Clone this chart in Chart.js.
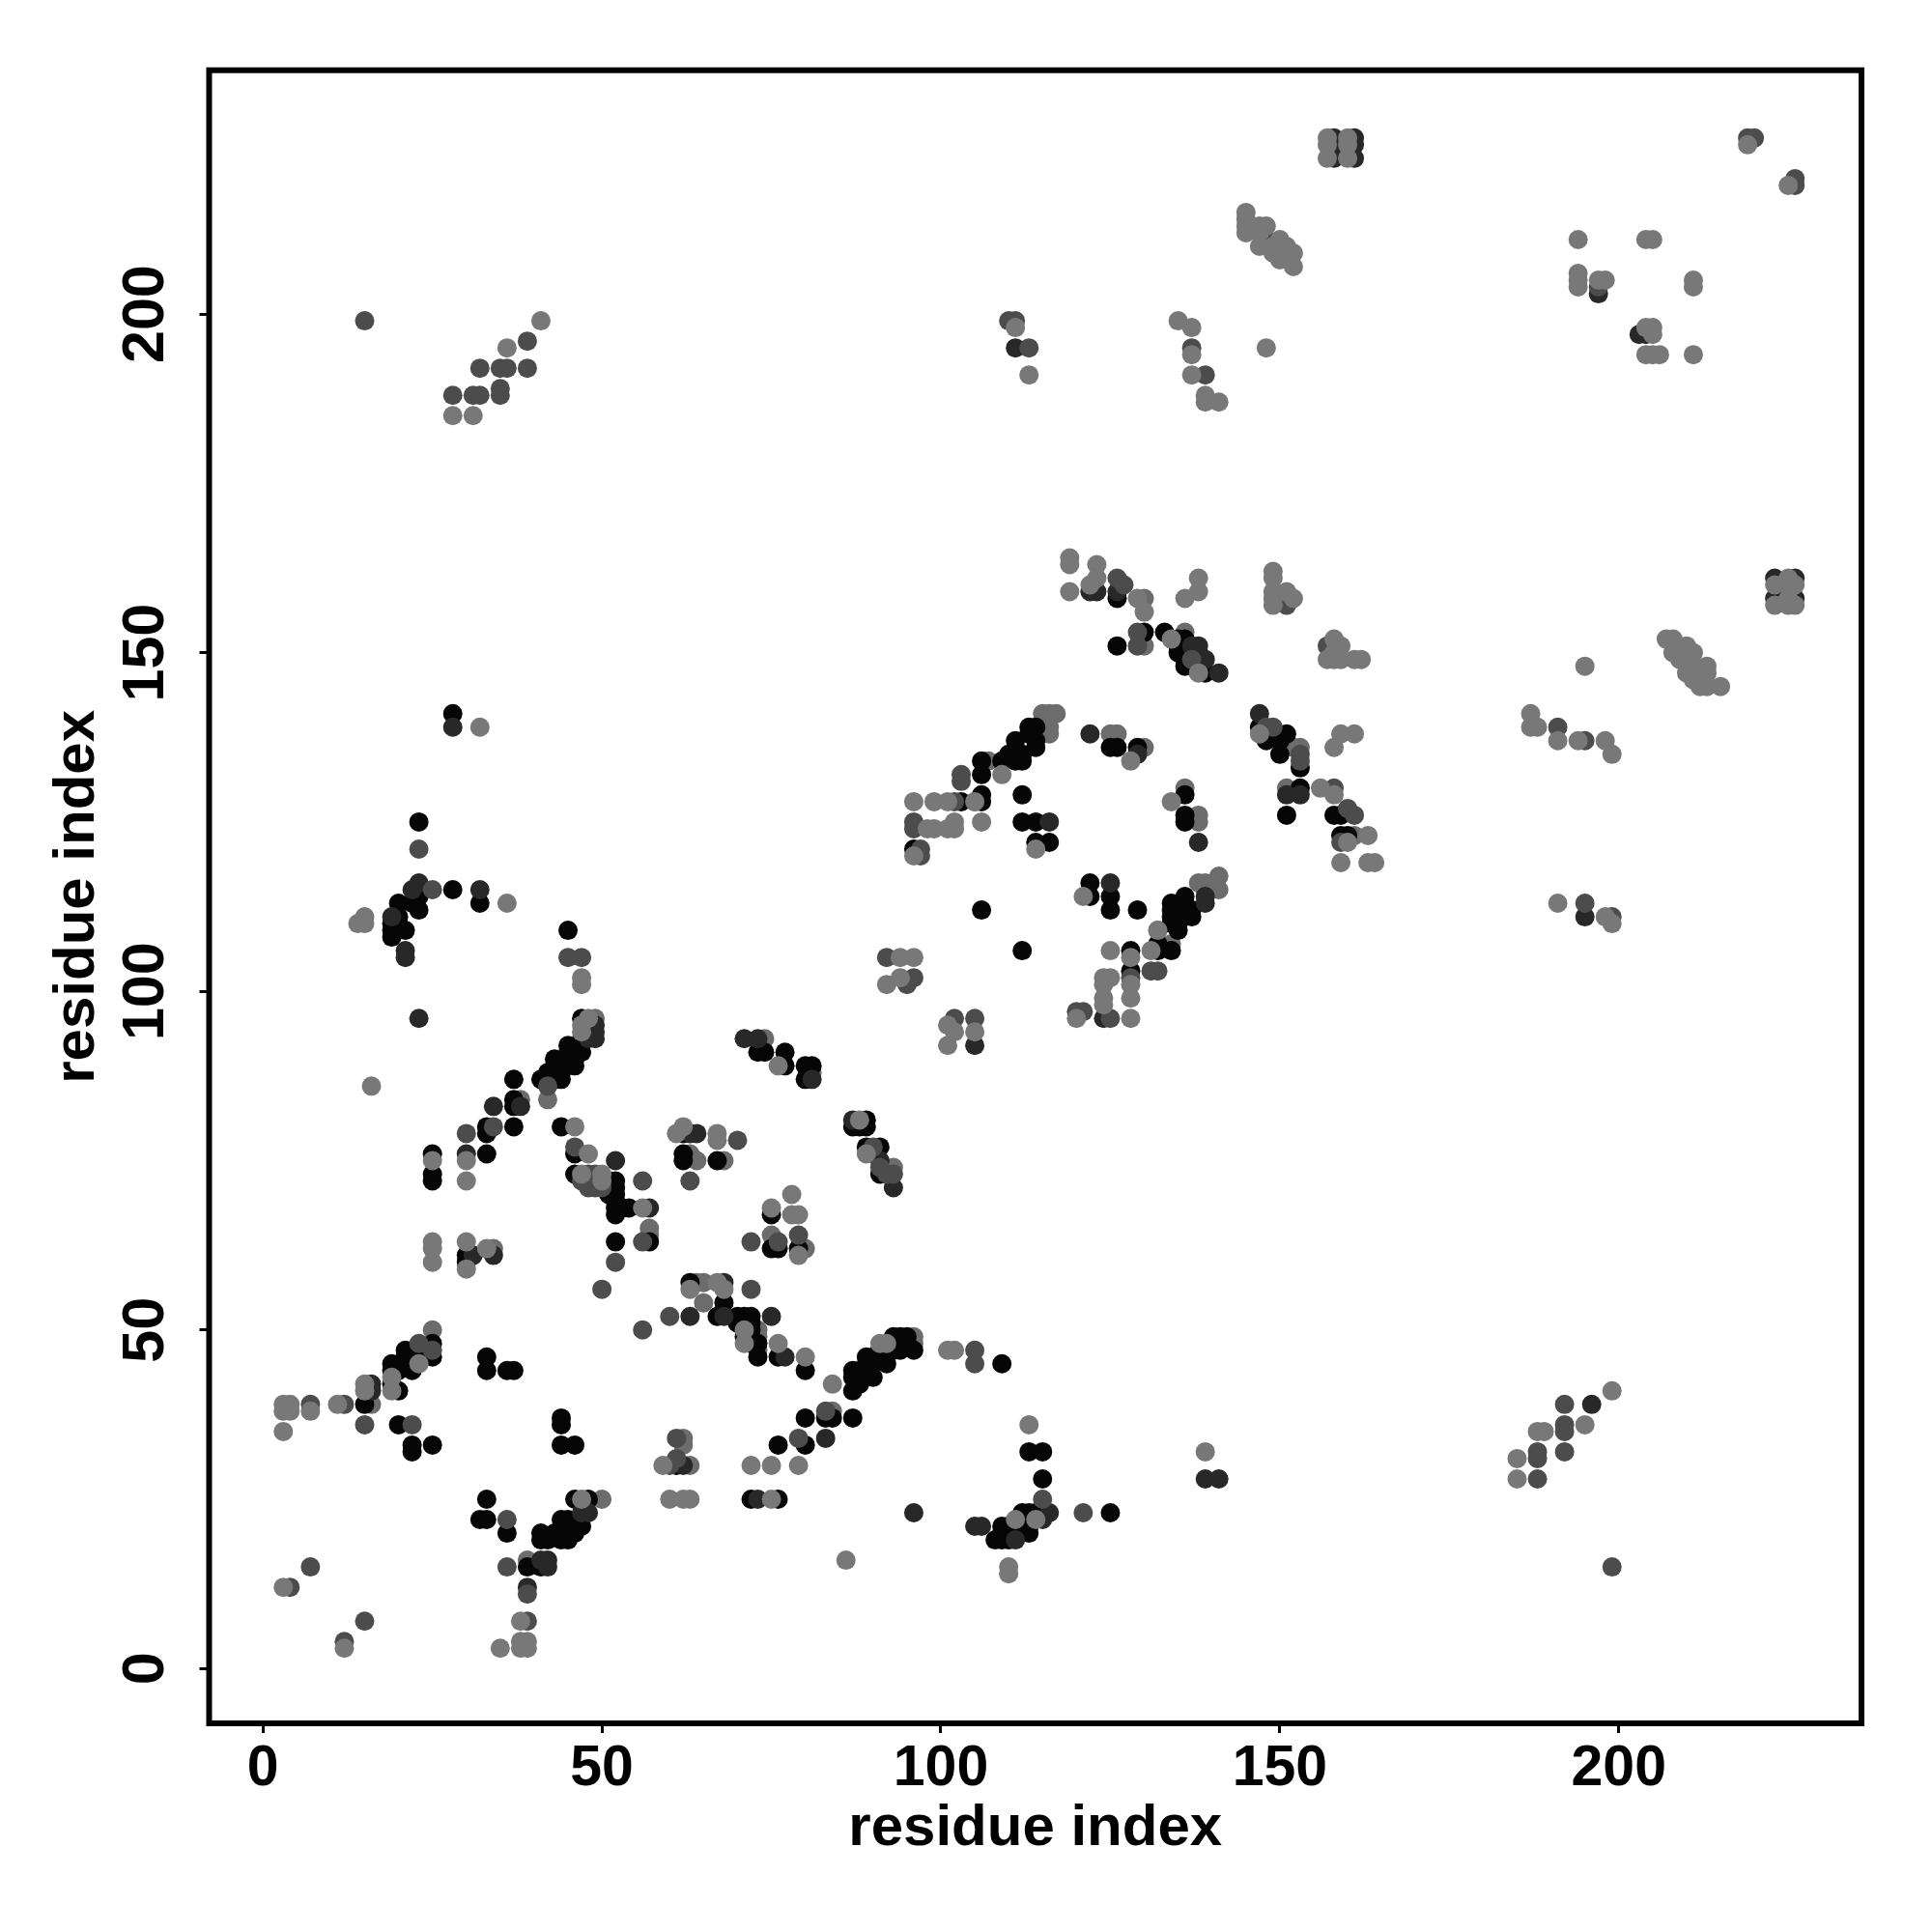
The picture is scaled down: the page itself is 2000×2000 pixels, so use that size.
<!DOCTYPE html>
<html>
  <head>
    <meta charset="utf-8">
    <title>Residue contacts</title>
    <style>
      body { margin: 0; background: #fff; }
      canvas { display: block; }
    </style>
  </head>
  <body>
    <canvas id="MyCanvas" width="2000" height="2000"></canvas>
    <script src="https://cdn.jsdelivr.net/npm/chart.js@4/dist/chart.umd.js"></script>
    <script>
      // contacts as [residue, residue], split up by how dark they print
      const faint = [[3,39],[4,39],[3,38],[4,38],[7,38],[11,39],[3,35],[3,12],[12,3],[38,7],[35,3],[38,4],[39,4],[38,3],[39,3],[25,63],[25,62],[25,60],[33,62],[30,63],[30,59],[15,42],[15,41],[19,41],[19,43],[23,45],
        [60,25],[62,25],[63,25],[59,30],[72,30],[75,30],[79,30],[75,25],[47,25],[71,50],[71,48],[63,56],[68,56],[67,57],[76,48],[80,46],[101,47],[102,47],[91,48],[92,48],[84,42],[86,16],[110,15],[110,14],[111,22],[114,22],[78,67],[79,67],[78,70],[75,68],[79,61],[113,36],[139,32],
        [30,75],[30,72],[25,75],[46,80],[48,76],[47,73],[50,73],[50,72],[62,80],[61,79],[67,79],[67,78],[47,102],[47,101],[14,110],[15,110],[15,111],[36,113],[16,86],[47,95],[47,94],[48,96],[56,68],[32,139],[88,81],[76,89],[89,76],
        [101,95],[102,94],[101,92],[105,94],[92,101],[94,102],[96,105],[94,105],[96,128],[99,128],[101,128],[105,128],[98,124],[99,124],[101,124],[102,124],[102,125],[106,125],[109,132],[96,120],[114,121],[121,114],[125,106],[128,105],[128,101],[128,99],[128,96],[124,102],[125,102],[124,101],[124,99],[124,98],[120,96],[131,106],[132,109],
        [119,164],[119,163],[119,159],[123,163],[123,161],[122,160],[129,158],[130,156],[138,161],[138,159],[136,158],[149,162],[149,161],[149,159],[149,158],[149,157],[151,159],[152,158],[158,152],[159,151],[157,149],[158,150],[158,149],[159,149],[161,149],[162,149],[134,128],[156,130],[158,129],[134,152],[147,138],[138,147],[159,138],[161,138],[158,136],[159,119],[163,119],[164,119],[163,123],[160,122],[128,134],
        [157,226],[157,225],[157,223],[160,226],[160,225],[160,223],[219,225],[225,219],[145,215],[145,214],[145,213],[145,212],[147,213],[148,213],[147,212],[147,210],[149,210],[149,209],[150,211],[150,208],[151,210],[152,209],[152,207],[135,199],[137,198],[137,194],[137,191],[139,188],[139,187],[141,187],[148,195],[194,211],[204,211],[205,211],[194,206],[194,205],[194,204],[197,205],[198,205],[211,205],[211,204],[205,198],[205,197],[204,198],[204,194],[205,194],[206,194],[211,194],
        [223,160],[226,160],[223,157],[225,157],[226,157],[225,160],[225,161],[225,158],[207,152],[208,152],[208,150],[210,151],[211,150],[209,150],[210,150],[209,149],[210,147],[211,146],[213,148],[213,147],[212,145],[213,145],[215,145],[211,148],[212,147],[195,148],[187,141],[187,139],[188,139],[191,137],[194,137],[198,137],[199,135],[191,113],[198,111],[199,110],[41,199],[36,195],[28,185],[31,185],[111,198],[113,191],[185,31],[185,28],[195,36],[199,41],[189,35],[188,35]];
      const mid = [[7,39],[7,15],[4,12],[15,7],[12,4],[39,7],[39,11],[36,15],[15,36],[22,36],[36,22],[12,39],[52,60],[50,56],[60,52],[56,50],[72,56],[72,63],[56,63],[61,34],[61,31],[60,30],[105,47],[105,45],[83,38],[79,34],[76,63],[79,64],[115,25],[121,23],[70,78],[56,72],[63,72],[30,79],[46,77],[34,80],[42,86],[45,105],[47,105],[23,121],[25,115],[15,199],[28,188],[31,188],[32,188],[32,192],[35,192],[36,192],[39,192],[35,189],[35,188],[39,196],[110,199],[111,199],[113,195],[137,195],[139,191],[148,211],[197,204],[23,48],[25,47],[49,73],[49,71],[50,71],[48,73],[48,71],[47,72],[92,73],[93,73],[91,74],[90,77],
        [92,105],[96,102],[95,101],[103,132],[103,131],[102,128],[102,96],[105,96],[121,97],[120,97],[131,103],[132,103],[125,96],[128,102],[96,125],[97,121],[96,124],[97,120],[158,130],[161,126],[160,127],[159,122],[129,153],[129,151],[126,161],[127,160],[151,157],[157,151],[148,139],[149,139],[153,134],[153,135],[137,149],[195,137],[191,139],[195,113],[199,111],[226,220],[226,219],[219,226],[220,226],[188,32],[188,31],[188,28],[192,39],[192,36],[192,35],[192,32],[199,15]];
      const dark = [[16,42],[16,41],[31,61],[34,61],[42,16],[42,15],[41,16],[48,23],[47,23],[68,57],[68,52],[63,52],[75,52],[77,46],[73,25],[83,34],[105,21],[106,21],[96,23],[116,23],[115,22],[111,19],[139,28],[141,28],[57,68],[52,75],[21,106],[21,105],[23,96],[19,111],[23,116],[22,115],[32,115],[28,139],[34,83],[38,83],[30,76],[71,93],[48,93],[49,93],[49,95],[49,94],[48,95],[48,94],[63,79],[64,79],[122,138],[116,125],[138,122],[125,116],[141,147],[138,151],[137,151],[139,149],[126,159],[123,159],[122,159],[81,87],[93,71],[91,75],[73,93],[87,81],[124,96],[105,92],[151,129],[153,129],[129,135],[147,141],[139,114],[139,113],[203,197],[204,197],[197,203],[158,226],[158,225],[158,223],[161,226],[161,225],[161,223],[223,161],[226,161],[223,158],[226,158],[196,39],[195,111],[111,195],[39,12],[62,30]];
      const black = [[15,39],[33,46],[33,44],[36,44],[37,44],[20,36],[22,33],[22,32],[25,33],[44,37],[44,36],[44,33],[46,33],[33,25],[32,22],[33,22],[36,20],[30,61],[30,60],[46,25],[48,25],[47,21],[46,21],[46,20],[45,22],[45,21],[45,19],[44,22],[44,19],[43,20],[41,20],[42,19],[41,19],[39,15],[41,15],[19,45],[19,44],[19,42],[20,44],[20,41],[21,47],[21,46],[21,45],[22,44],[23,47],[23,46],[25,48],[25,46],[61,30],
        [52,67],[52,63],[52,72],[52,71],[52,70],[52,69],[52,68],[53,68],[51,72],[51,71],[51,70],[54,68],[57,63],[63,57],[67,52],[68,54],[70,52],[71,52],[72,52],[70,51],[71,51],[72,51],[72,50],[71,49],[72,48],[73,48],[73,46],[76,46],[80,44],[72,25],[76,25],[75,62],[76,62],[79,62],[75,67],[76,33],[80,33],[80,37],[83,37],[84,37],[87,37],[87,44],[87,43],[87,41],[88,42],[88,43],[88,44],[89,46],[89,44],[90,46],[90,45],[90,43],[91,47],[91,46],[92,45],[92,47],[93,47],[94,47],[95,49],[95,48],[96,47],[93,49],[94,49],[109,45],[113,32],[115,32],[115,28],[115,23],[112,23],[113,23],[114,23],[112,22],[113,22],[113,21],[113,20],[112,21],[111,21],[110,21],[111,20],[109,21],[109,20],[108,19],[109,19],[110,19],[110,20],[125,23],
        [25,76],[25,73],[25,72],[33,76],[37,87],[37,84],[37,83],[37,80],[33,80],[33,79],[44,80],[46,76],[46,73],[48,72],[49,72],[62,76],[62,79],[67,75],[41,87],[42,88],[43,90],[43,89],[43,87],[44,89],[44,88],[44,87],[45,92],[45,91],[46,90],[46,89],[47,96],[47,93],[47,91],[45,109],[23,125],[28,115],[28,141],[23,115],[23,114],[23,112],[22,113],[20,113],[20,111],[20,110],[19,110],[19,109],[19,108],[21,109],[32,113],
        [73,91],[74,91],[77,91],[77,89],[80,89],[81,89],[80,87],[89,81],[89,80],[87,80],[88,80],[89,77],[91,77],[91,73],[62,75],[96,121],[106,129],[106,128],[106,132],[106,134],[109,134],[110,135],[111,134],[111,137],[112,135],[112,134],[113,139],[114,139],[114,137],[114,136],[113,138],[112,129],[112,125],[114,125],[114,122],[116,122],[106,112],[112,106],[122,116],[122,114],[125,114],[125,112],[129,112],[125,136],[126,136],[129,136],[126,158],
        [133,153],[135,152],[135,151],[135,150],[136,152],[136,151],[136,150],[136,149],[137,150],[137,149],[136,148],[137,148],[138,150],[138,149],[138,148],[139,147],[130,153],[126,151],[147,139],[148,137],[151,138],[150,137],[150,135],[153,133],[153,130],[151,126],[158,126],[159,126],[159,123],[160,123],[136,129],[136,126],[136,125],[136,114],[137,112],[137,111],[136,113],[136,112],[135,112],[134,113],[134,112],[134,111],[135,111],[135,110],[134,110],[135,109],[132,107],[132,106],[134,106],[128,106],[128,103],[103,128]];
      // greys that sit on top of the dark clusters
      const topped = [[16,39],[39,16],[50,25],[25,50],[34,62],[57,65],[57,64],[80,62],[75,64],[62,34],[62,33],[63,30],[64,57],[65,57],[65,54],[73,50],[73,49],[73,47],[84,38],[96,49],[96,48],[68,75],[64,75],[63,76],[38,84],[42,84],[49,96],[74,93],[81,88],[93,74],[107,134],[130,136],[125,138],[126,138],[116,141],[115,141],[117,141],[116,139],[116,138],[134,107],[139,116],[138,116],[139,115],[141,117],[141,115],[153,136],[152,136],[130,158],[130,151],[136,153],[138,125],[138,126],[136,130],[161,123],[151,130],[105,128],[132,109]];

      const xTicks = [0, 50, 100, 150, 200];
      const yTicks = [0, 50, 100, 150, 200];
      const axisLabel = 'residue index';

      const groups = [
        { pts: faint, color: '#787878' },
        { pts: mid, color: '#4c4c4c' },
        { pts: dark, color: '#282828' },
        { pts: black, color: '#060606' },
        { pts: topped, color: '#6c6c6c' }
      ];

      const frame = {
        id: 'frame',
        afterDraw(chart) {
          const a = chart.chartArea, ctx = chart.ctx;
          ctx.save();
          ctx.strokeStyle = '#000';
          ctx.lineWidth = 6;
          ctx.strokeRect(a.left, a.top, a.right - a.left, a.bottom - a.top);
          ctx.restore();
        }
      };

      const boldFont = size => ({ family: '"Liberation Sans"', weight: 'bold', size: size, lineHeight: 1.2 });

      const ctx = document.getElementById('MyCanvas').getContext('2d');
      const myChart = new Chart(ctx, {
        type: 'scatter',
        data: {
          datasets: groups.map(g => ({
            data: g.pts.map(p => ({ x: p[0], y: p[1] })),
            backgroundColor: g.color,
            borderWidth: 0,
            pointRadius: 10
          }))
        },
        plugins: [frame],
        options: {
          responsive: false,
          animation: false,
          layout: { padding: { left: 0, top: 72.7, right: 73, bottom: 0 } },
          plugins: { legend: { display: false }, tooltip: { enabled: false } },
          scales: {
            x: {
              min: -7.94,
              max: 235.8,
              afterFit(s) { s.height = 216; },
              afterBuildTicks(s) { s.ticks = xTicks.map(v => ({ value: v })); },
              grid: { drawOnChartArea: false, tickLength: 10, tickColor: '#000', tickWidth: 3 },
              border: { display: false },
              ticks: { color: '#000', font: boldFont(59), padding: 2, maxRotation: 0 },
              title: { display: true, text: axisLabel, color: '#000', font: boldFont(60), padding: { top: 0, bottom: 71 } }
            },
            y: {
              min: -8.09,
              max: 236,
              afterFit(s) { s.width = 216.5; },
              afterBuildTicks(s) { s.ticks = yTicks.map(v => ({ value: v })); },
              grid: { drawOnChartArea: false, tickLength: 10, tickColor: '#000', tickWidth: 3 },
              border: { display: false },
              ticks: { color: '#000', font: boldFont(61), padding: 3, minRotation: 90, maxRotation: 90, crossAlign: 'center' },
              title: { display: true, text: axisLabel, color: '#000', font: boldFont(60), padding: { top: 44, bottom: 0 } }
            }
          }
        }
      });
    </script>
  </body>
</html>
